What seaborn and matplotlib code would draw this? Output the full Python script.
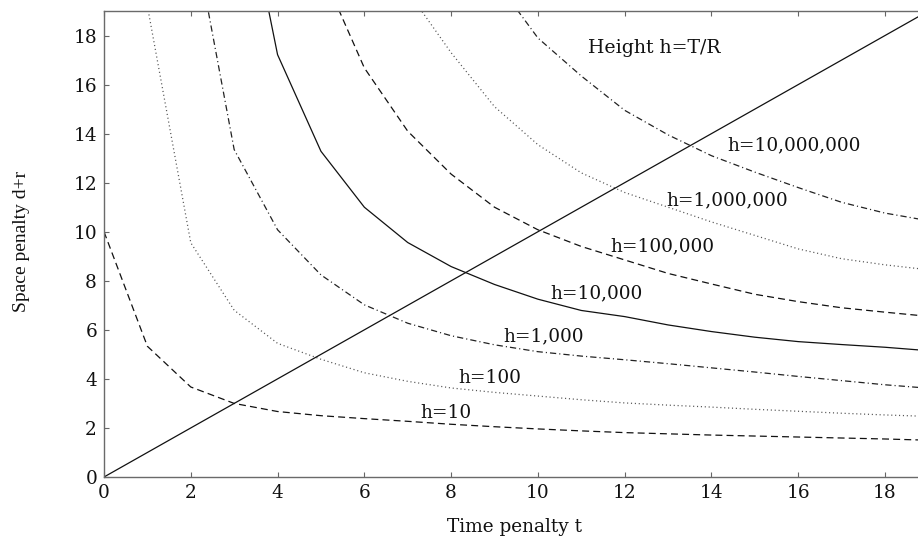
import matplotlib
matplotlib.use("Agg")
import matplotlib.pyplot as plt
import seaborn as sns
import numpy as np
import pandas as pd

# ---- data ----
t_vals = list(range(0, 20))

h10 = [10, 5.33, 3.67, 3.0, 2.67, 2.5, 2.38, 2.27, 2.15, 2.05, 1.96, 1.88, 1.81, 1.76, 1.71, 1.67, 1.63, 1.59, 1.55, 1.5]
h100 = [100, 19.2, 9.55, 6.8, 5.45, 4.8, 4.25, 3.9, 3.63, 3.45, 3.3, 3.15, 3.02, 2.93, 2.85, 2.76, 2.68, 2.6, 2.53, 2.47]
h1000 = [1000, 60, 22.8, 13.35, 10.08, 8.24, 7.02, 6.27, 5.76, 5.39, 5.11, 4.93, 4.78, 4.62, 4.45, 4.28, 4.1, 3.93, 3.76, 3.62]
h1e4 = [10000, 150, 45, 26, 17.22, 13.28, 11.0, 9.56, 8.58, 7.85, 7.25, 6.79, 6.54, 6.2, 5.93, 5.7, 5.52, 5.4, 5.29, 5.15]
h1e5 = [100000, 400, 80, 40, 27, 20.7, 16.68, 14.1, 12.35, 11.0, 10.08, 9.4, 8.85, 8.3, 7.87, 7.45, 7.15, 6.9, 6.72, 6.55]
h1e6 = [1000000, 1000, 160, 70, 42, 31, 24, 19.8, 17.3, 15.1, 13.55, 12.4, 11.6, 11.0, 10.4, 9.85, 9.3, 8.9, 8.65, 8.45]
h1e7 = [10000000, 2500, 300, 110, 60, 42, 32, 26, 22.5, 20.3, 17.9, 16.35, 14.95, 13.95, 13.1, 12.43, 11.8, 11.2, 10.76, 10.45]

diag_t = [0, 19]
diag_s = [0, 19]

series_names = ["h=10", "h=100", "h=1,000", "h=10,000", "h=100,000", "h=1,000,000", "h=10,000,000"]
series_vals = [h10, h100, h1000, h1e4, h1e5, h1e6, h1e7]

label_t = [7.28, 8.16, 9.2, 10.28, 11.66, 12.96, 14.37]
label_s = [2.6, 4.03, 5.73, 7.5, 9.4, 11.27, 13.52]

title_text = "Height h=T/R"
x_ticks = list(range(0, 19, 2))
y_ticks = list(range(0, 19, 2))

# ---- styling ----
sns.set_theme(style="ticks")
plt.rcParams["font.family"] = ["DejaVu Serif"]
plt.rcParams["lines.scale_dashes"] = False

dashed = (0, (5, 3))
dotted = (0, (0.8, 2.0))
dashdot = (0, (4.5, 2.2, 0.8, 2.2))
styles = [dashed, dotted, dashdot, "-", dashed, dotted, dashdot]
colors = ["#111111", "#555555", "#222222", "#111111", "#111111", "#555555", "#222222"]

fig = plt.figure(figsize=(9.18, 5.39), dpi=100)
ax = fig.add_axes([104 / 918, 62 / 539, 814 / 918, 466 / 539])

for name, vals, ls, c in zip(series_names, series_vals, styles, colors):
    df = pd.DataFrame({"t": t_vals, "s": vals})
    sns.lineplot(data=df, x="t", y="s", ax=ax, color=c, linestyle=ls, linewidth=0.9)

sns.lineplot(x=diag_t, y=diag_s, ax=ax, color="#111111", linewidth=0.9)

for name, tx, sy in zip(series_names, label_t, label_s):
    ax.text(tx, sy, name, ha="left", va="center", fontsize=13.3, color="#111111")
ax.text(11.15, 17.5, title_text, ha="left", va="center", fontsize=13.6, color="#111111")

ax.set_xlim(0, 18.76)
ax.set_ylim(0, 19.0)
ax.set_xticks(x_ticks)
ax.set_yticks(y_ticks)
ax.tick_params(axis="both", direction="in", length=3.5, width=0.8, color="#666666",
               labelsize=13.3, labelcolor="#111111", pad=5)
ax.tick_params(axis="x", top=True)
for side in ["left", "bottom", "top"]:
    ax.spines[side].set_color("#6a6a6a")
    ax.spines[side].set_linewidth(1.0)
ax.spines["right"].set_visible(False)

ax.set_xlabel("Time penalty t", fontsize=13.3, color="#111111", va="center", ha="center")
ax.xaxis.set_label_coords(0.504, -0.107)
ax.set_ylabel("Space penalty d+r", fontsize=14, family=["Liberation Serif"], color="#111111",
              va="center", ha="center")
ax.yaxis.set_label_coords(-0.101, 0.505)

fig.savefig("out.png", dpi=100)
